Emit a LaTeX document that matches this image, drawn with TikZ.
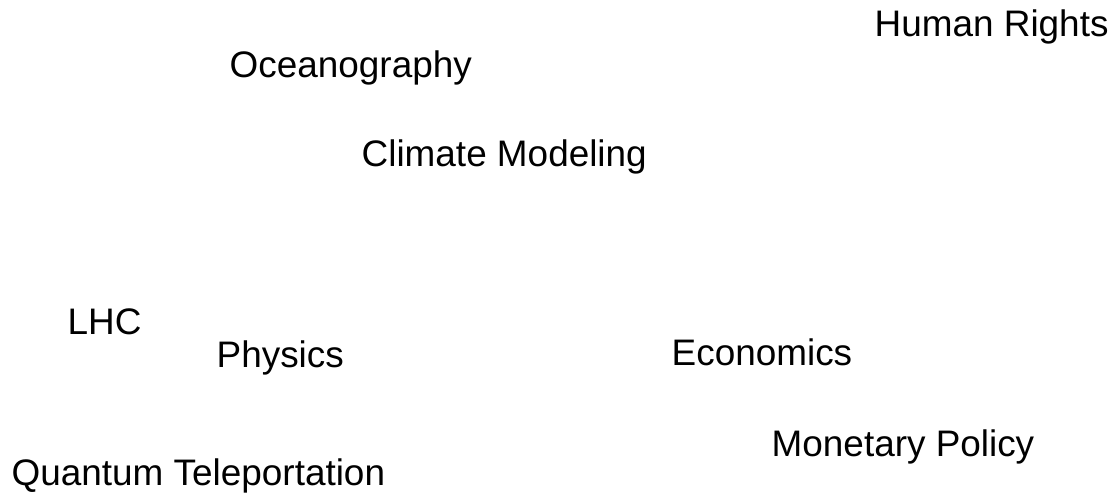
\documentclass[tikz,border=0pt]{standalone}
\usepackage{fontspec}
\setmainfont{Liberation Sans}
\usepackage{tikz}

\tikzset{topic/.style={anchor=base west, inner sep=0pt, font=\fontsize{10.5}{12}\selectfont}}

\begin{document}
\begin{tikzpicture}
	  \useasboundingbox (0, 0) rectangle (11.15, 4.97);
	  \node[topic] (rights) at (8.74, 4.60) {Human Rights};
	  \node[topic] (ocean) at (2.29, 4.19) {Oceanography};
	  \node[topic] (climate) at (3.61, 3.30) {Climate Modeling};
	  \node[topic] (lhc) at (0.67, 1.62) {LHC};
	  \node[topic] (physics) at (2.16, 1.29) {Physics};
	  \node[topic] (econ) at (6.71, 1.31) {Economics};
	  \node[topic] (policy) at (7.71, 0.40) {Monetary Policy};
	  \node[topic] (quantum) at (0.11, 0.11) {Quantum Teleportation};
	\end{tikzpicture}
\end{document}
